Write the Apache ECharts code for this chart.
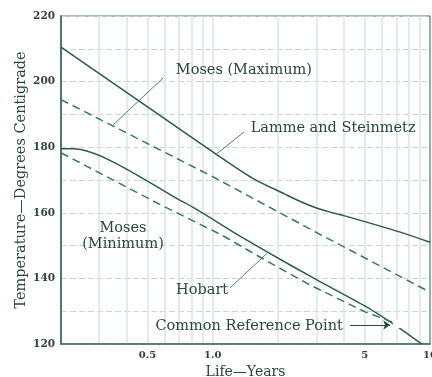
<!DOCTYPE html>
<html>
<head>
<meta charset="utf-8">
<script src="https://cdn.jsdelivr.net/npm/echarts@6/dist/echarts.min.js"></script>
<style>
  html, body { margin: 0; padding: 0; background: #ffffff; }
  #chart { width: 432px; height: 377px; }
</style>
</head>
<body>
<div id="chart"></div>
<script>
// Life (years) vs temperature (deg C)
const LAMME_STEINMETZ = [[0.2, 210.5], [1.03, 178], [1.52, 170.6], [2.15, 165.7], [2.53, 163.45], [2.96, 161.6], [3.47, 160.2], [3.98, 159.2], [7.3, 154.1], [10, 151]];
const MOSES_MAX = [[0.2, 194.5], [1, 171], [3, 154], [10, 135.8]];
const HOBART = [[0.2, 179.5], [0.227, 179.5], [0.745, 163], [1.31, 153.2], [1.82, 147.7], [3, 139.6], [5.1, 131.3], [7.1, 125.2], [8.9, 120.6], [9.2, 120]];
const MOSES_MIN = [[0.2, 178.3], [0.553, 163], [1.1, 153.2], [1.74, 145.6], [2.8, 138], [5.03, 129.8], [7.07, 126.1]];

const X_LABELS = [0.5, 1, 5, 10];
const X_GRID = [0.3, 0.4, 0.5, 0.6, 0.7, 0.8, 0.9, 1, 2, 3, 4, 5, 6, 7, 8, 9];
const REF_POINT = [7.07, 126.1];

const LINE_DARK = '#2c5a50';
const LINE_DASH = '#3b7767';
const TEXT = '#2a4640';
const FONT = 'DejaVu Serif';

const chart = echarts.init(document.getElementById('chart'));

const textLabel = (coord, text) => ({
    coord,
    symbol: 'circle',
    symbolSize: 0,
    label: {
        show: true,
        position: 'inside',
        formatter: text,
        color: TEXT,
        fontFamily: FONT,
        fontSize: 14.5,
        lineHeight: 16
    }
});

const leader = (a, b) => [{ coord: a }, { coord: b }];

const option = {
    animation: false,
    backgroundColor: '#ffffff',
    grid: {
        left: 61,
        right: 2,
        top: 16,
        bottom: 33,
        outerBoundsMode: 'none',
        show: true,
        borderColor: '#4d7a70',
        borderWidth: 1.2
    },
    xAxis: {
        type: 'log',
        logBase: 10,
        min: 0.2,
        max: 10,
        name: 'Life\u2014Years',
        nameLocation: 'middle',
        nameGap: 21,
        nameTextStyle: { color: TEXT, fontFamily: FONT, fontSize: 14 },
        axisLine: { show: true, lineStyle: { color: '#3e6a60', width: 1.6 } },
        axisTick: { show: false, customValues: X_GRID },
        axisLabel: {
            customValues: X_LABELS,
            formatter: v => (v === 1 ? '1.0' : String(v)),
            color: '#33423e',
            fontFamily: FONT,
            fontWeight: 'bold',
            fontSize: 10,
            margin: 6
        },
        splitLine: { show: true, lineStyle: { color: '#dbe6e2', width: 1.5 } }
    },
    yAxis: {
        type: 'value',
        min: 120,
        max: 220,
        interval: 20,
        name: 'Temperature\u2014Degrees Centigrade',
        nameLocation: 'middle',
        nameGap: 32,
        nameMoveOverlap: false,
        nameTextStyle: { color: TEXT, fontFamily: FONT, fontSize: 14.5 },
        axisLine: { show: true, lineStyle: { color: '#3e6a60', width: 1.6 } },
        axisTick: { show: false },
        axisLabel: {
            color: '#33423e',
            fontFamily: FONT,
            fontWeight: 'bold',
            fontSize: 10.5,
            margin: 6
        },
        splitLine: { show: true, lineStyle: { color: '#c9d8d3', type: [6, 3] } },
        minorTick: { show: false, splitNumber: 2 },
        minorSplitLine: { show: true, lineStyle: { color: '#c9d8d3', type: [6, 3] } }
    },
    series: [
        {
            name: 'Lamme and Steinmetz',
            type: 'line',
            data: LAMME_STEINMETZ,
            smooth: 0.3,
            symbol: 'none',
            lineStyle: { color: LINE_DARK, width: 1.5 },
            markPoint: { data: [textLabel([3.58, 185.9], 'Lamme and Steinmetz')] },
            markLine: {
                silent: true,
                symbol: 'none',
                lineStyle: { color: '#4a8272', width: 1, type: 'solid' },
                label: { show: false },
                data: [leader([1.39, 184.6], [1.025, 177.6])]
            }
        },
        {
            name: 'Moses (Maximum)',
            type: 'line',
            data: MOSES_MAX,
            symbol: 'none',
            lineStyle: { color: LINE_DASH, width: 1.5, type: [8, 5] },
            markPoint: { data: [textLabel([1.39, 203.5], 'Moses (Maximum)')] },
            markLine: {
                silent: true,
                symbol: 'none',
                lineStyle: { color: '#4a8272', width: 1, type: 'solid' },
                label: { show: false },
                data: [leader([0.59, 201.1], [0.344, 186.5])]
            }
        },
        {
            name: 'Hobart',
            type: 'line',
            data: HOBART,
            smooth: 0.25,
            symbol: 'none',
            lineStyle: { color: LINE_DARK, width: 1.5 },
            markPoint: { data: [textLabel([0.893, 136.5], 'Hobart')] },
            markLine: {
                silent: true,
                symbol: 'none',
                lineStyle: { color: '#4a8272', width: 1, type: 'solid' },
                label: { show: false },
                data: [leader([1.2, 137.1], [1.78, 147.7])]
            }
        },
        {
            name: 'Moses (Minimum)',
            type: 'line',
            data: MOSES_MIN,
            symbol: 'none',
            lineStyle: { color: LINE_DASH, width: 1.5, type: [8, 5] },
            markPoint: {
                data: [
                    textLabel([0.386, 153], 'Moses\n(Minimum)'),
                    textLabel([1.47, 125.5], 'Common Reference Point'),
                    {
                        coord: REF_POINT,
                        symbol: 'emptyCircle',
                        symbolSize: 7,
                        itemStyle: { color: '#ffffff', borderColor: '#2c4a44', borderWidth: 1 },
                        label: { show: false }
                    }
                ]
            },
            markLine: {
                silent: true,
                symbol: ['none', 'arrow'],
                symbolSize: 7,
                lineStyle: { color: '#2c4a44', width: 1, type: 'solid' },
                label: { show: false },
                data: [leader([4.29, 125.8], [6.56, 125.8])]
            }
        }
    ]
};

chart.setOption(option);
</script>
</body>
</html>
